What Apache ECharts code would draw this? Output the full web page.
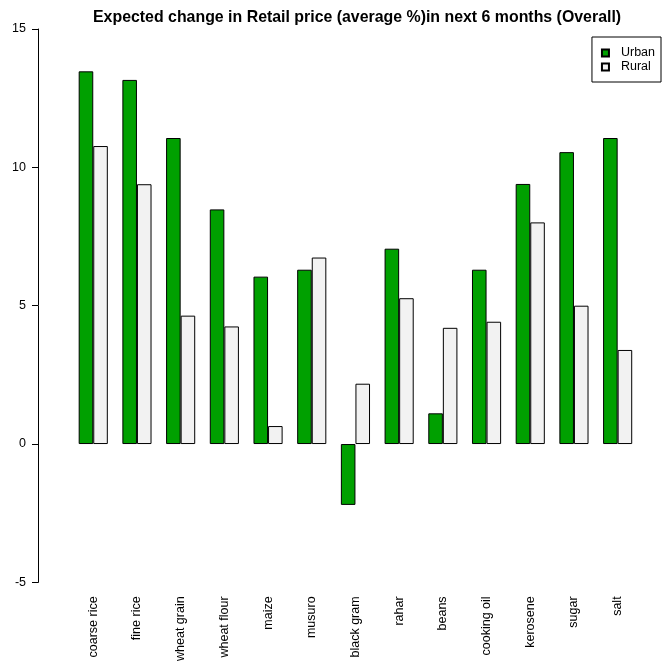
<!DOCTYPE html>
<html>
<head>
<meta charset="utf-8">
<script src="https://cdn.jsdelivr.net/npm/echarts@6/dist/echarts.min.js"></script>
<style>html,body{margin:0;padding:0;background:#fff}#c{width:669px;height:664px}</style>
</head>
<body>
<div id="c"></div>
<script>
var categories = ["coarse rice","fine rice","wheat grain","wheat flour","maize","musuro","black gram","rahar","beans","cooking oil","kerosene","sugar","salt"];
var urban = [13.47, 13.16, 11.06, 8.48, 6.05, 6.30, -2.2, 7.06, 1.11, 6.30, 9.40, 10.55, 11.06];
var rural = [10.77, 9.39, 4.64, 4.25, 0.65, 6.74, 2.18, 5.27, 4.20, 4.42, 8.01, 5.00, 3.40];
var yTicks = [-5, 0, 5, 10, 15];

var chart = echarts.init(document.getElementById('c'));
var font = 'Liberation Sans, Arial, sans-serif';
chart.setOption({
  animation: false,
  backgroundColor: '#fff',
  title: {
    text: 'Expected change in Retail price (average %)in next 6 months (Overall)',
    left: 88, top: 5,
    textStyle: {fontFamily: font, fontSize: 15.9, fontWeight: 'bold', color: '#000'}
  },
  legend: {
    orient: 'vertical', right: 8, top: 37,
    data: ['Urban', 'Rural'],
    icon: 'rect', itemWidth: 7, itemHeight: 7, itemGap: 0,
    padding: [9, 6, 8, 9],
    borderColor: '#000', borderWidth: 1, borderRadius: 0,
    textStyle: {fontFamily: font, fontSize: 12.5, color: '#000', lineHeight: 14, padding: [0,0,0,7]}
  },
  grid: {left: 71.4, right: 29.5, top: 29, bottom: 81, containLabel: false},
  xAxis: {
    type: 'category', data: categories,
    axisLine: {show: false, onZero: false}, axisTick: {show: false},
    axisLabel: {rotate: 90, margin: 14, fontFamily: font, fontSize: 12.5, color: '#000', interval: 0}
  },
  yAxis: {
    type: 'value', min: -5, max: 15, interval: 5, offset: 33.4,
    splitLine: {show: false},
    axisLine: {show: true, lineStyle: {color: '#000', width: 1}},
    axisTick: {show: true, length: 6, lineStyle: {color: '#000'}},
    axisLabel: {fontFamily: font, fontSize: 12.5, color: '#000', margin: 12,
      formatter: function (v) { return yTicks.indexOf(v) >= 0 ? String(v) : ''; }}
  },
  series: [
    {name: 'Urban', type: 'bar', data: urban, barGap: '0%', barCategoryGap: '33.33%',
     itemStyle: {color: '#00A000', borderColor: '#000', borderWidth: 1}},
    {name: 'Rural', type: 'bar', data: rural,
     itemStyle: {color: '#F2F2F2', borderColor: '#000', borderWidth: 1}}
  ]
});
</script>
</body>
</html>
